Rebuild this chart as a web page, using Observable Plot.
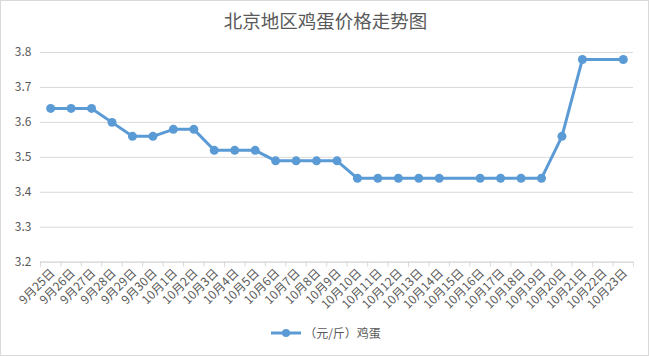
<!DOCTYPE html>
<html><head><meta charset="utf-8">
<script src="https://cdn.jsdelivr.net/npm/d3@7"></script>
<script src="https://cdn.jsdelivr.net/npm/@observablehq/plot@0.6"></script>
<style>
html,body{margin:0;padding:0;background:#fff;}
#wrap{width:649px;height:356px;box-sizing:border-box;border:1px solid #d9d9d9;position:relative;overflow:hidden;font-family:"Noto Sans CJK SC","Microsoft YaHei",sans-serif;color:#595959;}
#title{position:absolute;left:0;top:6px;width:649px;text-align:center;font-size:18.5px;line-height:26px;}
#chart{position:absolute;left:-1px;top:39px;}
#legend{position:absolute;left:0;top:323px;width:649px;display:flex;justify-content:center;align-items:center;font-size:12px;}
</style></head>
<body><div id="wrap"><div id="title">北京地区鸡蛋价格走势图</div><div id="chart"></div>
<div id="legend"><svg width="32" height="12" style="margin-right:2px"><line x1="1" y1="6" x2="31" y2="6" stroke="#5b9bd5" stroke-width="3"/><circle cx="16" cy="6" r="4" fill="#5b9bd5"/></svg><span>（元/斤）鸡蛋</span></div></div>
<script>
const dates = ["9月25日","9月26日","9月27日","9月28日","9月29日","9月30日","10月1日","10月2日","10月3日","10月4日","10月5日","10月6日","10月7日","10月8日","10月9日","10月10日","10月11日","10月12日","10月13日","10月14日","10月15日","10月16日","10月17日","10月18日","10月19日","10月20日","10月21日","10月22日","10月23日"];
const prices = [3.64,3.64,3.64,3.60,3.56,3.56,3.58,3.58,3.52,3.52,3.52,3.49,3.49,3.49,3.49,3.44,3.44,3.44,3.44,3.44,null,3.44,3.44,3.44,3.44,3.56,3.78,null,3.78];
const yTicks = [3.2,3.3,3.4,3.5,3.6,3.7,3.8];

const data = dates.map((d,i)=>({date:d, price:prices[i]}));
const valid = data.filter(d=>d.price!=null);
const W = 649, mL = 40, mR = 15;
const bw = (W - mL - mR) / dates.length;
const last = [dates[dates.length-1]];

const chart = Plot.plot({
  width: W, height: 282,
  marginLeft: mL, marginRight: mR, marginTop: 12, marginBottom: 60,
  style: {fontFamily: '"Noto Sans CJK SC", sans-serif', color: "#595959", background: "transparent"},
  x: {type: "band", domain: dates, padding: 0, round: false},
  y: {domain: [3.2, 3.8]},
  marks: [
    Plot.gridY(yTicks, {stroke: "#d9d9d9", strokeOpacity: 1}),
    Plot.axisY(yTicks, {tickSize: 0, tickPadding: 9, fontSize: 12, tickFormat: d3.format(".1f"), label: null, fill: "#595959"}),
    Plot.ruleY([3.2], {stroke: "#d9d9d9"}),
    Plot.ruleX(dates, {x: d=>d, y1: 3.2, y2: 3.2, insetBottom: -5, dx: -bw/2, stroke: "#d9d9d9"}),
    Plot.ruleX(last, {x: d=>d, y1: 3.2, y2: 3.2, insetBottom: -5, dx: bw/2, stroke: "#d9d9d9"}),
    Plot.axisX({tickSize: 0, tickPadding: 9, dx: 2, tickRotate: -45, fontSize: 12, label: null, fill: "#595959"}),
    Plot.line(valid, {x: "date", y: "price", stroke: "#5b9bd5", strokeWidth: 3, strokeLinejoin: "round"}),
    Plot.dot(valid, {x: "date", y: "price", fill: "#5b9bd5", r: 4.5})
  ]
});
document.getElementById("chart").appendChild(chart);
</script></body></html>
